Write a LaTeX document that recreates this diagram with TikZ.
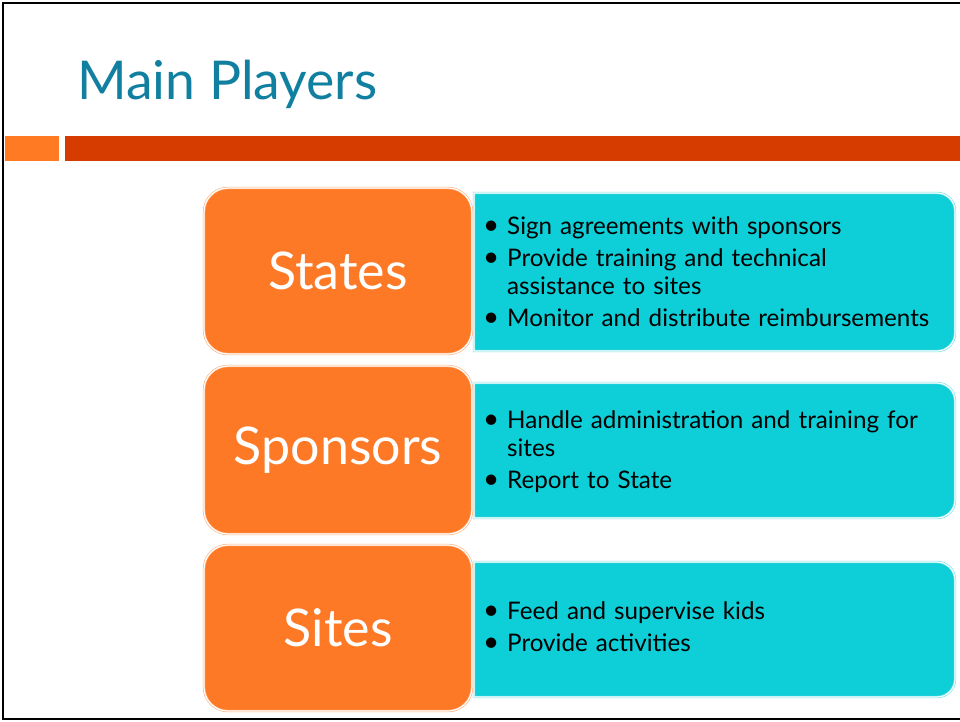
\documentclass[tikz,border=0pt]{standalone}
\usepackage{fontspec}
\setmainfont{Lato}
\usepackage{tikz}
\definecolor{titleblue}{RGB}{16,127,160}
\definecolor{barlight}{RGB}{255,122,34}
\definecolor{bardark}{RGB}{214,60,0}
\definecolor{playerorange}{RGB}{253,121,38}
\definecolor{taskcyan}{RGB}{14,207,216}
\tikzstyle{player}=[rectangle, rounded corners=24pt, fill=playerorange, draw=playerorange!60,
  double=white, double distance=1.2pt, line width=0.6pt, minimum width=268pt,
  text=white, font=\fontsize{52}{60}\selectfont]
\tikzstyle{tasks}=[anchor=west, text width=459pt, inner xsep=11pt, inner ysep=0pt,
  align=left, font=\fontsize{24.2}{28}\selectfont]
\tikzstyle{taskshape}=[fill=taskcyan, draw=taskcyan!60, double=white, double distance=1.2pt, line width=0.6pt]
\newcommand{\bitem}[1]{\par\hangindent=22pt\hangafter=1\noindent\makebox[22pt][l]{\hspace{-2pt}\scalebox{1.15}{\textbullet}}#1}

\begin{document}
\begin{tikzpicture}[x=1pt, y=-1pt]
  \useasboundingbox (0,0) rectangle (960,721);
  % slide frame and header
  \draw[line width=2.5pt] (960,3) -- (3,3) -- (3,719) -- (960,719);
  \fill[barlight] (5,136) rectangle (59,161);
  \fill[bardark] (65,136) rectangle (960,161);
  \node[anchor=base west, inner sep=0pt, text=titleblue, font=\fontsize{53.5}{60}\selectfont] (title) at (77,99) {Main Players};
  % cyan boxes, square on the left
  \foreach \top/\bot in {193/351, 383/518, 562/697}
    \draw[taskshape] (474,\top) [rounded corners=18pt] -- (955,\top) -- (955,\bot) [sharp corners] -- (474,\bot) -- cycle;
  % players
  \node[player, minimum height=166pt] (states) at (338,271) {States};
  \node[player, minimum height=168pt] (sponsors) at (338,450) {Sponsors};
  \node[player, minimum height=166pt] (sites) at (338,628) {Sites};
  % what they do
  \node[tasks] (statesdo) at (474,265) {%
    \setlength{\parskip}{4pt}%
    \bitem{Sign agreements with sponsors}
    \bitem{Provide training and technical\newline assistance to sites}
    \bitem{Monitor and distribute reimbursements}};
  \node[tasks] (sponsorsdo) at (474,445) {%
    \setlength{\parskip}{4pt}%
    \bitem{Handle administration and training for\newline sites}
    \bitem{Report to State}};
  \node[tasks] (sitesdo) at (474,620) {%
    \setlength{\parskip}{4pt}%
    \bitem{Feed and supervise kids}
    \bitem{Provide activities}};
\end{tikzpicture}
\end{document}
